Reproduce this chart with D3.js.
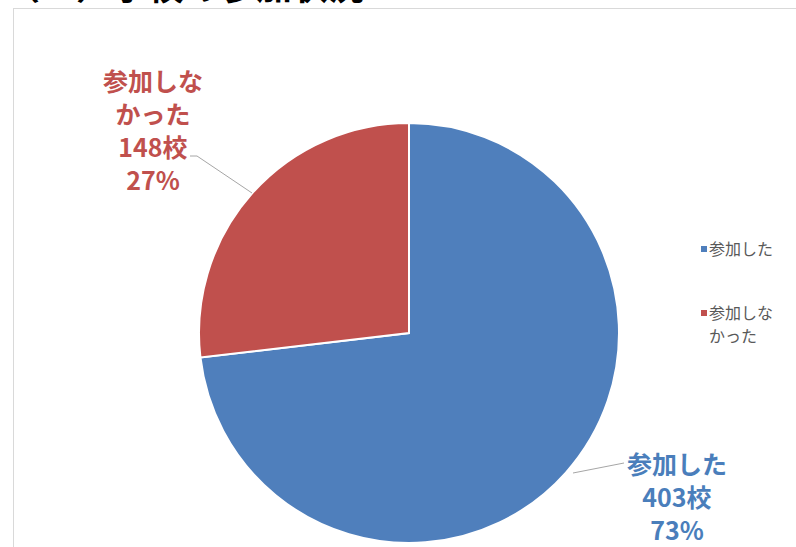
<!DOCTYPE html>
<html>
<head>
<meta charset="utf-8">
<script src="https://cdn.jsdelivr.net/npm/d3@7"></script>
<style>
  body { margin: 0; background: #fff; }
  svg { display: block; font-family: "Noto Sans CJK JP", sans-serif; }
</style>
</head>
<body>
<svg id="chart" width="796" height="547"></svg>
<script>
// chart data
const categories = ['参加した', '参加しなかった'];
const schoolCounts = [403, 148];
const percentLabels = ['73%', '27%'];
const legendLines = [['参加した'], ['参加しな', 'かった']];
const labelLines = [['参加した', '403校', '73%'], ['参加しな', 'かった', '148校', '27%']];
const colors = ['#4f7fbc', '#c0504d'];
const labelColors = ['#4a7ebb', '#c0504d'];

const svg = d3.select('#chart');

// title (mostly cut off at the top of the screenshot)
svg.append('text')
  .attr('x', 4)
  .attr('y', 0)
  .attr('font-size', 36)
  .attr('font-weight', 'bold')
  .attr('fill', '#000')
  .text('（２）学校の参加状況');

// chart area frame
svg.append('rect')
  .attr('x', 13.5).attr('y', 8.5)
  .attr('width', 820).attr('height', 600)
  .attr('fill', 'none')
  .attr('stroke', '#d9d9d9');

// pie
const cx = 409, cy = 333, r = 210;
const pie = d3.pie().sort(null).value(d => d);
const arc = d3.arc().innerRadius(0).outerRadius(r);
const arcs = pie(schoolCounts);

const g = svg.append('g').attr('transform', `translate(${cx},${cy})`);
g.selectAll('path')
  .data(arcs)
  .join('path')
  .attr('d', arc)
  .attr('fill', (d, i) => colors[i])
  .attr('stroke', '#fff')
  .attr('stroke-width', 2);

// leader lines
const leaders = [
  [[573, 473], [624, 463]],
  [[252, 193], [197, 156], [190, 156]]
];
svg.selectAll('.leader')
  .data(leaders)
  .join('path')
  .attr('class', 'leader')
  .attr('d', d3.line())
  .attr('fill', 'none')
  .attr('stroke', '#a6a6a6')
  .attr('stroke-width', 1);

// data labels
const labelPos = [{x: 677, y: 465}, {x: 153, y: 82}];
labelLines.forEach((lines, i) => {
  const t = svg.append('text')
    .attr('text-anchor', 'middle')
    .attr('font-size', 25)
    .attr('font-weight', 'bold')
    .attr('fill', labelColors[i]);
  lines.forEach((s, j) => {
    t.append('tspan')
      .attr('x', labelPos[i].x)
      .attr('y', labelPos[i].y + j * 33)
      .attr('dy', '0.35em')
      .text(s);
  });
});

// legend
const legendY = [249, 313];
legendLines.forEach((lines, i) => {
  svg.append('rect')
    .attr('x', 701).attr('y', legendY[i] - 3)
    .attr('width', 6).attr('height', 6)
    .attr('fill', colors[i]);
  const t = svg.append('text')
    .attr('font-size', 16)
    .attr('fill', '#595959');
  lines.forEach((s, j) => {
    t.append('tspan')
      .attr('x', 709)
      .attr('y', legendY[i] + j * 23)
      .attr('dy', '0.35em')
      .text(s);
  });
});
</script>
</body>
</html>
